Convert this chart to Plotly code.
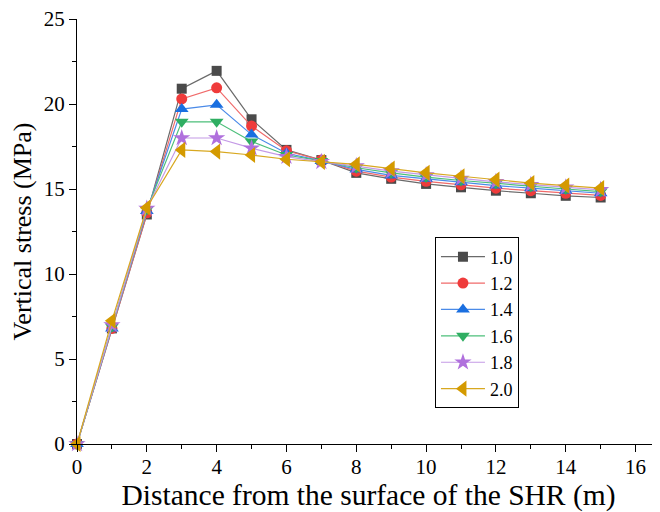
import plotly.graph_objects as go

x = list(range(16))
names = ["1.0", "1.2", "1.4", "1.6", "1.8", "2.0"]
s10 = [0, 6.8, 13.5, 20.9, 21.95, 19.1, 17.3, 16.7, 15.95, 15.6, 15.3, 15.1, 14.9, 14.75, 14.6, 14.5]
s12 = [0, 6.8, 13.6, 20.3, 20.95, 18.7, 17.25, 16.7, 16.05, 15.7, 15.45, 15.25, 15.05, 14.9, 14.75, 14.62]
s14 = [0, 6.8, 13.7, 19.7, 19.95, 18.2, 17.1, 16.65, 16.15, 15.8, 15.6, 15.4, 15.2, 15.05, 14.9, 14.75]
s16 = [0, 6.9, 13.8, 18.95, 18.95, 17.8, 17.0, 16.65, 16.25, 15.95, 15.7, 15.5, 15.32, 15.15, 15.0, 14.85]
s18 = [0, 7.0, 13.85, 18.0, 18.0, 17.4, 16.9, 16.6, 16.35, 16.05, 15.82, 15.62, 15.42, 15.25, 15.1, 14.95]
s20 = [0, 7.25, 13.9, 17.3, 17.2, 17.0, 16.75, 16.6, 16.45, 16.2, 15.95, 15.75, 15.55, 15.35, 15.2, 15.05]
series = [s10, s12, s14, s16, s18, s20]

marker_colors = ["#4a4a4a", "#ef3b3b", "#1a6fe0", "#2fae62", "#b070dd", "#d49a00"]
line_colors = ["#6a6a6a", "#f06a6a", "#4a8ae8", "#4cbf7a", "#c49ae6", "#d8a820"]
symbols = ["square", "circle", "triangle-up", "triangle-down", "star", "triangle-left"]
sizes = [10, 11, 12, 12, 13, 14]

fig = go.Figure()
for n, s, mc, lc, sym, sz in zip(names, series, marker_colors, line_colors, symbols, sizes):
    fig.add_trace(go.Scatter(
        x=x, y=s, name=n, mode="lines+markers",
        line=dict(color=lc, width=1.2),
        marker=dict(symbol=sym, size=sz, color=mc, line=dict(width=0)),
        cliponaxis=False,
    ))

font = "Liberation Serif, Times New Roman, serif"
fig.update_layout(
    width=652, height=504,
    margin=dict(l=69, r=0, t=11, b=68),
    paper_bgcolor="white", plot_bgcolor="white",
    font=dict(family=font, color="black"),
    showlegend=True,
    legend=dict(
        x=0.614, y=0.486, xanchor="left", yanchor="top",
        bordercolor="black", borderwidth=1, bgcolor="white",
        font=dict(size=18, family=font),
        tracegroupgap=0, itemwidth=44,
    ),
    xaxis=dict(
        range=[0, 16.7], tickmode="array", tickvals=list(range(0, 17, 2)),
        showgrid=False, zeroline=False, showline=True, linecolor="black", linewidth=1.2,
        ticks="outside", ticklen=7, tickwidth=1.2, tickcolor="black",
        tickfont=dict(size=21), automargin=False, ticklabelstandoff=-3,
        ticklabeloverflow="allow",
        minor=dict(tickvals=list(range(1, 17, 2)), ticks="outside", ticklen=4, tickcolor="black", tickwidth=1.2),
        title=dict(text="Distance from the surface of the SHR (m)", font=dict(size=29.5), standoff=0),
    ),
    yaxis=dict(
        range=[0, 25], tickmode="array", tickvals=[0, 5, 10, 15, 20, 25],
        showgrid=False, zeroline=False, showline=True, linecolor="black", linewidth=1.2,
        ticks="outside", ticklen=7, tickwidth=1.2, tickcolor="black",
        tickfont=dict(size=21), automargin=False, ticklabeloverflow="allow",
        minor=dict(tickvals=[2.5, 7.5, 12.5, 17.5, 22.5], ticks="outside", ticklen=4, tickcolor="black", tickwidth=1.2),
        title=dict(text="Vertical stress (MPa)", font=dict(size=26), standoff=6),
    ),
)

fig.write_html("out.html")
